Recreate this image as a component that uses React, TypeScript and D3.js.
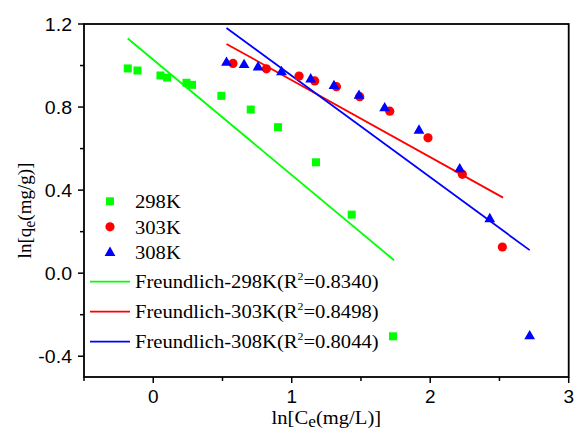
import React from "react";
import * as d3 from "d3";

const series298x = [-0.184, -0.114, 0.052, 0.1, 0.24, 0.28, 0.492, 0.704, 0.901, 1.175, 1.433, 1.731];
const series298y = [0.986, 0.976, 0.952, 0.942, 0.917, 0.907, 0.854, 0.788, 0.703, 0.534, 0.282, -0.304];
const series303x = [0.576, 0.817, 1.053, 1.166, 1.323, 1.491, 1.708, 1.984, 2.232, 2.521];
const series303y = [1.01, 0.984, 0.949, 0.926, 0.898, 0.85, 0.78, 0.652, 0.476, 0.126];
const series308x = [0.529, 0.656, 0.757, 0.926, 1.137, 1.305, 1.486, 1.671, 1.919, 2.213, 2.43, 2.718];
const series308y = [1.016, 1.005, 0.994, 0.971, 0.936, 0.904, 0.857, 0.797, 0.689, 0.503, 0.263, -0.301];
const fit298 = [[-0.184, 1.13], [1.739, 0.0625]];
const fit303 = [[0.529, 1.104], [2.526, 0.364]];
const fit308 = [[0.529, 1.181], [2.718, 0.111]];
const xTicks = [0, 1, 2, 3];
const yTicks = [-0.4, 0.0, 0.4, 0.8, 1.2];
const xMinor = [-0.5, 0.5, 1.5, 2.5];
const yMinor = [-0.2, 0.2, 0.6, 1.0];
const legendNames = ["298K", "303K", "308K"];
const fitNames = ["Freundlich-298K", "Freundlich-303K", "Freundlich-308K"];
const r2Values = ["0.8340", "0.8498", "0.8044"];

const GREEN = "#00ff00";
const RED = "#ff0000";
const BLUE = "#0000ff";
const SX = 1.085;

export default function App() {
  const W = 577, H = 432;
  const L = 84, R = 568.7, T = 24, B = 377;
  const x = d3.scaleLinear().domain([-0.5, 3]).range([L, R]);
  const y = d3.scaleLinear().domain([-0.5, 1.2]).range([B, T]);
  const line = d3.line<number[]>().x((d) => x(d[0])).y((d) => y(d[1]));
  const serif = "'Liberation Serif', 'Times New Roman', serif";
  const sans = "'Liberation Sans', Arial, sans-serif";

  const square = (cx: number, cy: number, k: string | number) => (
    <rect key={k} x={cx - 4} y={cy - 4} width={8} height={8} fill={GREEN} />
  );
  const circle = (cx: number, cy: number, k: string | number) => (
    <circle key={k} cx={cx} cy={cy} r={4.6} fill={RED} />
  );
  const tri = (cx: number, cy: number, k: string | number) => (
    <path key={k} d={`M${cx},${cy - 5.8} L${cx + 5.4},${cy + 3.6} L${cx - 5.4},${cy + 3.6} Z`} fill={BLUE} />
  );

  const markers = [square, circle, tri];
  const lineColors = [GREEN, RED, BLUE];
  const fits = [fit298, fit303, fit308];

  const stxt = (tx: number, ty: number, content: React.ReactNode, opts: any = {}) => (
    <text transform={`translate(${tx},${ty}) scale(${SX},1)`} {...opts}>{content}</text>
  );

  return (
    <svg width={W} height={H} style={{ position: "absolute", left: 0, top: 0, background: "#fff" }}>
      <rect x={0} y={0} width={W} height={H} fill="#fff" />
      {fits.map((f, i) => (
        <path key={"fit" + i} d={line(f) || ""} stroke={lineColors[i]} strokeWidth={1.8} fill="none" />
      ))}
      {series298x.map((v, i) => square(x(v), y(series298y[i]), "g" + i))}
      {series303x.map((v, i) => circle(x(v), y(series303y[i]), "r" + i))}
      {series308x.map((v, i) => tri(x(v), y(series308y[i]), "b" + i))}

      <rect x={L} y={T} width={R - L} height={B - T} fill="none" stroke="#000" strokeWidth={1.8} />
      {xTicks.map((t) => (
        <g key={"xt" + t}>
          <line x1={x(t)} x2={x(t)} y1={B} y2={B + 6} stroke="#000" strokeWidth={1.5} />
          {stxt(x(t), B + 26, String(t), { fontFamily: sans, fontSize: 17.5, textAnchor: "middle" })}
        </g>
      ))}
      {xMinor.map((t) => (
        <line key={"xm" + t} x1={x(t)} x2={x(t)} y1={B} y2={B + 4} stroke="#000" strokeWidth={1.5} />
      ))}
      {yTicks.map((t) => (
        <g key={"yt" + t}>
          <line x1={L - 6} x2={L} y1={y(t)} y2={y(t)} stroke="#000" strokeWidth={1.5} />
          {stxt(L - 12, y(t) + 6.5, t.toFixed(1), { fontFamily: sans, fontSize: 18, textAnchor: "end" })}
        </g>
      ))}
      {yMinor.map((t) => (
        <line key={"ym" + t} x1={L - 4} x2={L} y1={y(t)} y2={y(t)} stroke="#000" strokeWidth={1.5} />
      ))}

      {stxt((L + R) / 2, 424, (
        <>
          ln[C<tspan dy={3} fontSize={16}>e</tspan><tspan dy={-3}>(mg/L)]</tspan>
        </>
      ), { fontFamily: serif, fontSize: 19, textAnchor: "middle" })}
      <text transform={`translate(31,${(T + B) / 2 + 10}) rotate(-90)`} fontFamily={serif} fontSize={19} textAnchor="middle">
        ln[q<tspan dy={4} fontSize={16}>e</tspan><tspan dy={-4}>(mg/g)]</tspan>
      </text>

      {legendNames.map((n, i) => {
        const cy = 201.3 + i * 25.5;
        return (
          <g key={"lg" + i}>
            {markers[i](110, cy, "lm" + i)}
            {stxt(135, cy + 7, n, { fontFamily: serif, fontSize: 19 })}
          </g>
        );
      })}
      {fitNames.map((n, i) => {
        const cy = 281.7 + i * 30;
        return (
          <g key={"lf" + i}>
            <line x1={90} x2={130} y1={cy} y2={cy} stroke={lineColors[i]} strokeWidth={1.8} />
            {stxt(135, cy + 6.5, (
              <>
                {n}(R<tspan dy={-8} fontSize={11}>2</tspan><tspan dy={8}>={r2Values[i]})</tspan>
              </>
            ), { fontFamily: serif, fontSize: 19 })}
          </g>
        );
      })}
    </svg>
  );
}
